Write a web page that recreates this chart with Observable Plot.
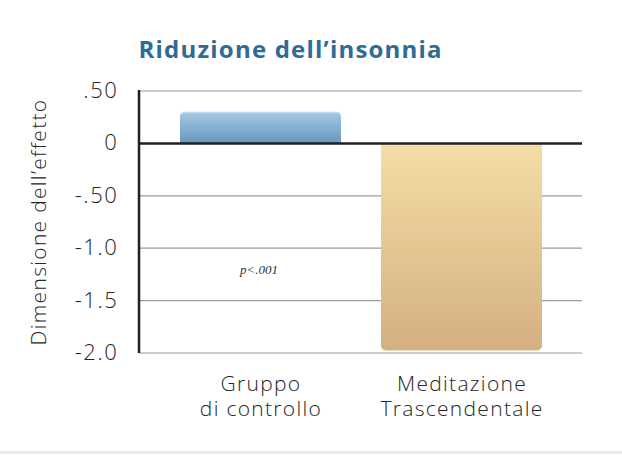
<!DOCTYPE html>
<html>
<head>
<meta charset="utf-8">
<script src="https://cdn.jsdelivr.net/npm/d3@7"></script>
<script src="https://cdn.jsdelivr.net/npm/@observablehq/plot@0.6"></script>
<style>
  html, body { margin: 0; padding: 0; background: #fff; }
  #chart { width: 622px; height: 455px; position: relative; }
  #chart svg { display: block; }
  .bottomline { position: absolute; left: 0; top: 451px; width: 622px; height: 3px; background: #e2ecf3; }
</style>
</head>
<body>
<div id="chart"></div>
<script>
const categories = ["Gruppo\ndi controllo", "Meditazione\nTrascendentale"];
const values = [0.30, -1.98];
const gradIds = ["gradBlue", "gradGold"];
const yTicks = [0.5, 0, -0.5, -1.0, -1.5, -2.0];
const yTickLabels = [".50", "0", "-.50", "-1.0", "-1.5", "-2.0"];
const title = "Riduzione dell’insonnia";
const yLabel = "Dimensione dell’effetto";
const note = "p<.001";

const data = categories.map((c, i) => ({cat: c, value: values[i], fill: `url(#${gradIds[i]})`}));
const gridTicks = yTicks.filter(t => t !== 0);
const font = "'Open Sans', Lato, sans-serif";

const plot = Plot.plot({
  width: 622,
  height: 455,
  marginLeft: 139,
  marginRight: 40,
  marginTop: 90.5,
  marginBottom: 102.5,
  style: {fontFamily: font, color: "#262626", background: "#fff"},
  x: {domain: categories, padding: 0.2, label: null},
  y: {domain: [-2, 0.5], label: null},
  marks: [
    Plot.ruleY(gridTicks, {stroke: "#9a9a9a", strokeWidth: 1.2}),
    Plot.barY(data, {x: "cat", y: "value", fill: "fill", rx: 5}),
    Plot.barY(data, {x: "cat", y1: 0, y2: d => d.value / 2, fill: "fill"}),
    Plot.ruleY([0], {stroke: "#231f20", strokeWidth: 2.5}),
    Plot.axisY({
      ticks: yTicks,
      tickFormat: d => yTickLabels[yTicks.indexOf(d)],
      tickSize: 0, tickPadding: 21, fontSize: 22, fontWeight: 300,
      label: null, className: "lsy"
    }),
    Plot.axisX({
      tickSize: 0, tickPadding: 20, fontSize: 21, fontWeight: 300,
      lineHeight: 1.2, label: null, className: "lsx"
    }),
    Plot.text([yLabel], {
      frameAnchor: "left", rotate: -90, dx: -100, fontSize: 21, fontWeight: 300,
      textAnchor: "middle", fill: "#262626", className: "lsl"
    }),
    Plot.text([title], {
      frameAnchor: "top-left", dx: -1, dy: -33, fontSize: 24, fontWeight: "bold",
      textAnchor: "start", lineAnchor: "bottom", fill: "#2f6b96", className: "tt"
    }),
    Plot.text([note], {
      x: () => categories[0], y: () => -1.25, fontSize: 13, fontStyle: "italic",
      fontFamily: "'Liberation Serif', 'DejaVu Serif', serif",
      lineAnchor: "bottom", fill: "#333", dx: -2
    })
  ]
});

const ns = "http://www.w3.org/2000/svg";
const ys = plot.scale("y");

const defs = document.createElementNS(ns, "defs");
const y0 = ys.apply(0);
const yb = ys.apply(values[0]);
const yg = ys.apply(values[1]);
defs.innerHTML = `
  <linearGradient id="${gradIds[0]}" gradientUnits="userSpaceOnUse" x1="0" y1="${yb}" x2="0" y2="${y0}">
    <stop offset="0" stop-color="#d3e6f3"/>
    <stop offset="0.08" stop-color="#9fc6e2"/>
    <stop offset="1" stop-color="#6997bd"/>
  </linearGradient>
  <linearGradient id="${gradIds[1]}" gradientUnits="userSpaceOnUse" x1="0" y1="${y0}" x2="0" y2="${yg}">
    <stop offset="0" stop-color="#f5dda6"/>
    <stop offset="1" stop-color="#d4b081"/>
  </linearGradient>`;
plot.insertBefore(defs, plot.firstChild);

const style = document.createElementNS(ns, "style");
style.textContent = `
  .lsx text { letter-spacing: 1.3px; }
  .lsy text { letter-spacing: 1.6px; }
  .lsl text { letter-spacing: 1.3px; }
  .tt text { letter-spacing: 1.2px; }`;
plot.insertBefore(style, plot.firstChild);

const line = document.createElementNS(ns, "line");
line.setAttribute("x1", 139); line.setAttribute("x2", 139);
line.setAttribute("y1", ys.apply(0.5) - 0.5); line.setAttribute("y2", ys.apply(-2) + 0.5);
line.setAttribute("stroke", "#231f20"); line.setAttribute("stroke-width", 2.5);
plot.appendChild(line);

const chart = document.getElementById("chart");
chart.appendChild(plot);
const bl = document.createElement("div");
bl.className = "bottomline";
chart.appendChild(bl);
</script>
</body>
</html>
